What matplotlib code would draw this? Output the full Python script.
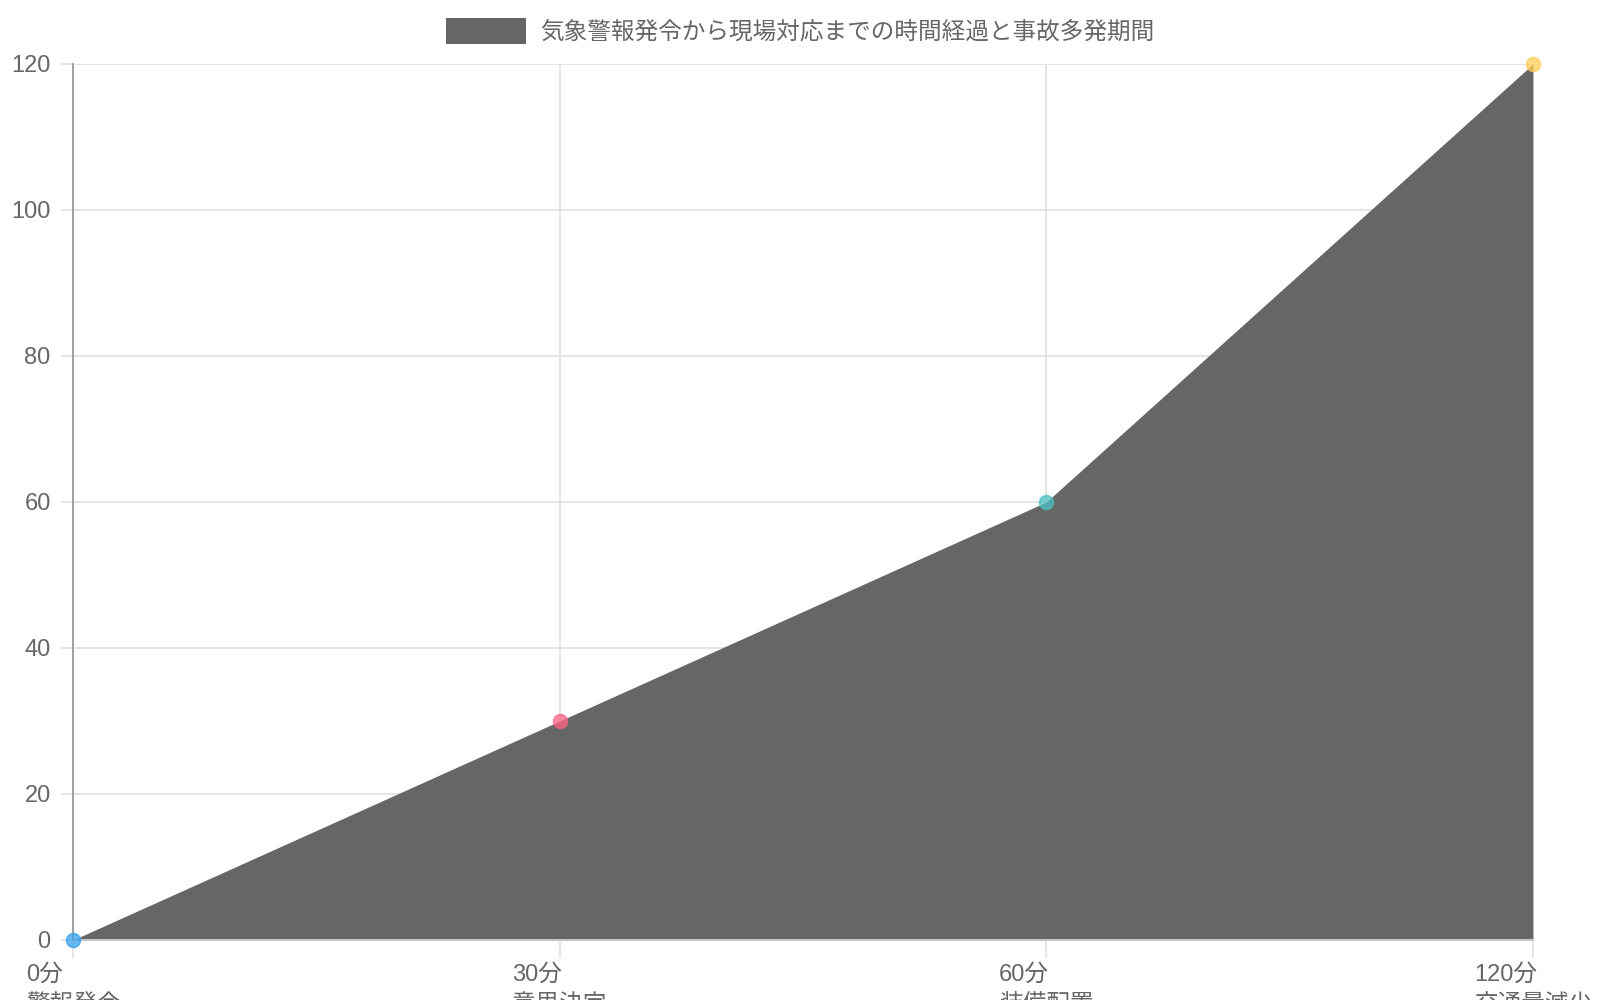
import matplotlib
matplotlib.use("Agg")
import matplotlib.pyplot as plt

plt.rcParams['font.family'] = ['Liberation Sans', 'Noto Sans CJK JP', 'DejaVu Sans']

# data
stages = ["0分\n警報発令", "30分\n意思決定", "60分\n装備配置", "120分\n交通量減少"]
minutes = [0, 30, 60, 120]
point_colors = ["#36A2EB", "#FF6384", "#4BC0C0", "#FFCE56"]
series_label = "気象警報発令から現場対応までの時間経過と事故多発期間"
y_ticks = [0, 20, 40, 60, 80, 100, 120]

text_color = "#666666"
grid_color = "#e0e0e0"

fig = plt.figure(figsize=(16, 10), dpi=100)
ax = fig.add_axes([0.0456, 0.06, 0.9125, 0.876])

xs = list(range(len(stages)))
ax.fill_between(xs, minutes, 0, color="#666666", linewidth=0, zorder=2,
                label=series_label)
for x, y, c in zip(xs, minutes, point_colors):
    ax.plot(x, y, 'o', markersize=10, markerfacecolor=c, markeredgecolor=c,
            alpha=0.75, markeredgewidth=1.2, zorder=4, clip_on=False)

ax.set_xlim(0, len(stages) - 1)
ax.set_ylim(0, 120)
ax.set_yticks(y_ticks)
ax.set_xticks(xs)
ax.set_xticklabels(stages, ha='center', multialignment='left', linespacing=1.5)

ax.grid(True, color=grid_color, linewidth=1.2, zorder=0)
ax.set_axisbelow(True)
ax.tick_params(axis='y', length=9, width=1.2, color=grid_color, pad=7,
               labelsize=17, labelcolor=text_color)
ax.tick_params(axis='x', length=13, width=1.2, color=grid_color, pad=4,
               labelsize=17, labelcolor=text_color)

for side in ['top', 'right']:
    ax.spines[side].set_visible(False)
ax.spines['left'].set_color("#9a9a9a")
ax.spines['left'].set_linewidth(1.3)
ax.spines['bottom'].set_color("#c4c4c4")
ax.spines['bottom'].set_linewidth(1.5)
ax.spines['bottom'].set_zorder(3)

leg = fig.legend(loc='upper center', bbox_to_anchor=(0.5, 1.003), frameon=False,
                 fontsize=17, handlelength=3.4, handleheight=1.3,
                 handletextpad=0.6, labelcolor=text_color)

fig.savefig("out.png", dpi=100)
